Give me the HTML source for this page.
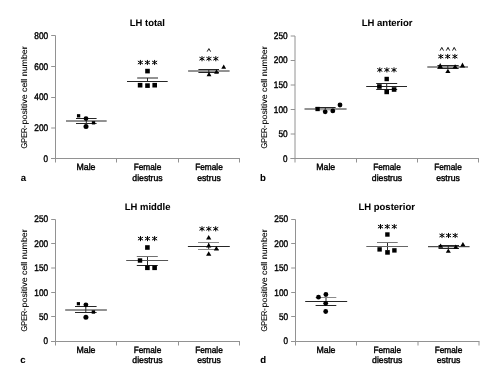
<!DOCTYPE html><html><head><meta charset="utf-8"><style>html,body{margin:0;padding:0;background:#fff;}svg{display:block;font-family:"Liberation Sans",sans-serif;will-change:transform;}text{fill:#000;stroke:#000;stroke-width:0.4px;}text.b{stroke-width:0.05px;}text{text-rendering:geometricPrecision;}</style></head><body>
<svg width="499" height="386" viewBox="0 0 499 386">
<rect width="499" height="386" fill="#fff"/>
<line x1="55.5" y1="35.5" x2="55.5" y2="162.5" stroke="#929292" stroke-width="1"/>
<line x1="51.2" y1="35.5" x2="55.5" y2="35.5" stroke="#929292" stroke-width="1"/>
<line x1="51.2" y1="66.5" x2="55.5" y2="66.5" stroke="#929292" stroke-width="1"/>
<line x1="51.2" y1="97.5" x2="55.5" y2="97.5" stroke="#929292" stroke-width="1"/>
<line x1="51.2" y1="128.0" x2="55.5" y2="128.0" stroke="#929292" stroke-width="1"/>
<line x1="51.2" y1="158.5" x2="55.5" y2="158.5" stroke="#929292" stroke-width="1"/>
<text x="48.1" y="38.9" font-size="9.6" text-anchor="end" font-weight="normal" textLength="13.8" lengthAdjust="spacingAndGlyphs">800</text>
<text x="48.1" y="69.9" font-size="9.6" text-anchor="end" font-weight="normal" textLength="13.8" lengthAdjust="spacingAndGlyphs">600</text>
<text x="48.1" y="100.30000000000001" font-size="9.6" text-anchor="end" font-weight="normal" textLength="13.8" lengthAdjust="spacingAndGlyphs">400</text>
<text x="48.1" y="131.4" font-size="9.6" text-anchor="end" font-weight="normal" textLength="13.8" lengthAdjust="spacingAndGlyphs">200</text>
<text x="48.1" y="161.9" font-size="9.6" text-anchor="end" font-weight="normal" textLength="4.5" lengthAdjust="spacingAndGlyphs">0</text>
<line x1="51.0" y1="158.5" x2="240.0" y2="158.5" stroke="#929292" stroke-width="1"/>
<line x1="116.5" y1="158.5" x2="116.5" y2="162.5" stroke="#929292" stroke-width="1"/>
<line x1="178.5" y1="158.5" x2="178.5" y2="162.5" stroke="#929292" stroke-width="1"/>
<line x1="239.5" y1="158.5" x2="239.5" y2="162.5" stroke="#929292" stroke-width="1"/>
<text x="147.4" y="26.2" font-size="9.5" text-anchor="middle" font-weight="bold" textLength="35.2" lengthAdjust="spacingAndGlyphs" class="b">LH total</text>
<g transform="translate(27.0,148.4) rotate(-90)" font-size="8.3"><text x="0" y="0" style="stroke-width:0.1px" textLength="23.2" lengthAdjust="spacingAndGlyphs">GPER-</text><text x="24.0" y="0" style="stroke-width:0.1px" textLength="78.1" lengthAdjust="spacingAndGlyphs">positive cell number</text></g>
<text x="20.8" y="181.0" font-size="9.6" text-anchor="start" font-weight="bold" class="b">a</text>
<text x="86.0" y="169.7" font-size="9" text-anchor="middle" font-weight="normal" textLength="19" lengthAdjust="spacingAndGlyphs">Male</text>
<text x="147.5" y="169.7" font-size="9" text-anchor="middle" font-weight="normal" textLength="27.6" lengthAdjust="spacingAndGlyphs">Female</text>
<text x="147.5" y="180.6" font-size="9" text-anchor="middle" font-weight="normal" textLength="30.3" lengthAdjust="spacingAndGlyphs">diestrus</text>
<text x="209.0" y="169.7" font-size="9" text-anchor="middle" font-weight="normal" textLength="27.6" lengthAdjust="spacingAndGlyphs">Female</text>
<text x="209.0" y="180.6" font-size="9" text-anchor="middle" font-weight="normal" textLength="23.5" lengthAdjust="spacingAndGlyphs">estrus</text>
<line x1="86.3" y1="118.5" x2="86.3" y2="123.5" stroke="#262626" stroke-width="1"/>
<line x1="66" y1="121.0" x2="106.7" y2="121.0" stroke="#262626" stroke-width="1"/>
<line x1="76" y1="118.5" x2="96.6" y2="118.5" stroke="#262626" stroke-width="1"/>
<line x1="76" y1="123.5" x2="96.6" y2="123.5" stroke="#262626" stroke-width="1"/>
<rect x="76.95" y="114.15" width="3.3" height="3.3" fill="#000"/>
<circle cx="86" cy="118.6" r="2.4" fill="#000"/>
<rect x="91.85" y="121.15" width="3.3" height="3.3" fill="#000"/>
<circle cx="86" cy="126.4" r="2.5" fill="#000"/>
<line x1="147.5" y1="78.0" x2="147.5" y2="81.5" stroke="#262626" stroke-width="1"/>
<line x1="127" y1="81.5" x2="167.7" y2="81.5" stroke="#262626" stroke-width="1"/>
<line x1="137.2" y1="78.0" x2="158" y2="78.0" stroke="#262626" stroke-width="1"/>
<path d="M140.40 59.95V65.05M137.85 61.02L142.95 63.98M137.85 63.98L142.95 61.02" stroke="#000" stroke-width="1.0" fill="none"/>
<path d="M147.40 59.95V65.05M144.85 61.02L149.95 63.98M144.85 63.98L149.95 61.02" stroke="#000" stroke-width="1.0" fill="none"/>
<path d="M154.60 59.95V65.05M152.05 61.02L157.15 63.98M152.05 63.98L157.15 61.02" stroke="#000" stroke-width="1.0" fill="none"/>
<rect x="145.20" y="68.80" width="4.6" height="4.6" fill="#000"/>
<rect x="137.80" y="82.90" width="4.6" height="4.6" fill="#000"/>
<rect x="145.20" y="83.30" width="4.6" height="4.6" fill="#000"/>
<rect x="152.40" y="82.90" width="4.6" height="4.6" fill="#000"/>
<line x1="208.8" y1="69.5" x2="208.8" y2="72.5" stroke="#262626" stroke-width="1"/>
<line x1="188.1" y1="71.0" x2="229.6" y2="71.0" stroke="#262626" stroke-width="1"/>
<line x1="198.4" y1="69.5" x2="219" y2="69.5" stroke="#262626" stroke-width="1"/>
<line x1="198.4" y1="72.5" x2="219" y2="72.5" stroke="#262626" stroke-width="1"/>
<path d="M202.00 56.15V61.25M199.45 57.23L204.55 60.18M199.45 60.18L204.55 57.23" stroke="#000" stroke-width="1.0" fill="none"/>
<path d="M208.90 56.15V61.25M206.35 57.23L211.45 60.18M206.35 60.18L211.45 57.23" stroke="#000" stroke-width="1.0" fill="none"/>
<path d="M215.80 56.15V61.25M213.25 57.23L218.35 60.18M213.25 60.18L218.35 57.23" stroke="#000" stroke-width="1.0" fill="none"/>
<path d="M207.20 51.60L208.90 48.60L210.60 51.60" stroke="#000" stroke-width="0.9" fill="none"/>
<path d="M223.70 64.60L226.10 68.70L221.30 68.70Z" fill="#000"/>
<path d="M216.50 69.30L218.90 73.80L214.10 73.80Z" fill="#000"/>
<path d="M209.00 71.80L211.40 76.20L206.60 76.20Z" fill="#000"/>
<line x1="295.0" y1="36.0" x2="295.0" y2="162.5" stroke="#929292" stroke-width="1"/>
<line x1="290.7" y1="36.0" x2="295.0" y2="36.0" stroke="#929292" stroke-width="1"/>
<line x1="290.7" y1="60.5" x2="295.0" y2="60.5" stroke="#929292" stroke-width="1"/>
<line x1="290.7" y1="85.0" x2="295.0" y2="85.0" stroke="#929292" stroke-width="1"/>
<line x1="290.7" y1="109.5" x2="295.0" y2="109.5" stroke="#929292" stroke-width="1"/>
<line x1="290.7" y1="134.0" x2="295.0" y2="134.0" stroke="#929292" stroke-width="1"/>
<line x1="290.7" y1="158.5" x2="295.0" y2="158.5" stroke="#929292" stroke-width="1"/>
<text x="287.6" y="39.4" font-size="9.6" text-anchor="end" font-weight="normal" textLength="13.8" lengthAdjust="spacingAndGlyphs">250</text>
<text x="287.6" y="63.1" font-size="9.6" text-anchor="end" font-weight="normal" textLength="13.8" lengthAdjust="spacingAndGlyphs">200</text>
<text x="287.6" y="88.0" font-size="9.6" text-anchor="end" font-weight="normal" textLength="13.8" lengthAdjust="spacingAndGlyphs">150</text>
<text x="287.6" y="112.9" font-size="9.6" text-anchor="end" font-weight="normal" textLength="13.8" lengthAdjust="spacingAndGlyphs">100</text>
<text x="287.6" y="137.4" font-size="9.6" text-anchor="end" font-weight="normal" textLength="9.2" lengthAdjust="spacingAndGlyphs">50</text>
<text x="287.6" y="161.9" font-size="9.6" text-anchor="end" font-weight="normal" textLength="4.5" lengthAdjust="spacingAndGlyphs">0</text>
<line x1="290.5" y1="158.5" x2="479.0" y2="158.5" stroke="#929292" stroke-width="1"/>
<line x1="356.5" y1="158.5" x2="356.5" y2="162.5" stroke="#929292" stroke-width="1"/>
<line x1="417.5" y1="158.5" x2="417.5" y2="162.5" stroke="#929292" stroke-width="1"/>
<line x1="478.5" y1="158.5" x2="478.5" y2="162.5" stroke="#929292" stroke-width="1"/>
<text x="387.1" y="26.4" font-size="9.5" text-anchor="middle" font-weight="bold" textLength="50.8" lengthAdjust="spacingAndGlyphs" class="b">LH anterior</text>
<g transform="translate(266.6,148.4) rotate(-90)" font-size="8.3"><text x="0" y="0" style="stroke-width:0.1px" textLength="23.2" lengthAdjust="spacingAndGlyphs">GPER-</text><text x="24.0" y="0" style="stroke-width:0.1px" textLength="78.1" lengthAdjust="spacingAndGlyphs">positive cell number</text></g>
<text x="259.9" y="181.0" font-size="9.6" text-anchor="start" font-weight="bold" class="b">b</text>
<text x="325.75" y="169.7" font-size="9" text-anchor="middle" font-weight="normal" textLength="19" lengthAdjust="spacingAndGlyphs">Male</text>
<text x="387.0" y="169.7" font-size="9" text-anchor="middle" font-weight="normal" textLength="27.6" lengthAdjust="spacingAndGlyphs">Female</text>
<text x="387.0" y="180.6" font-size="9" text-anchor="middle" font-weight="normal" textLength="30.3" lengthAdjust="spacingAndGlyphs">diestrus</text>
<text x="448.0" y="169.7" font-size="9" text-anchor="middle" font-weight="normal" textLength="27.6" lengthAdjust="spacingAndGlyphs">Female</text>
<text x="448.0" y="180.6" font-size="9" text-anchor="middle" font-weight="normal" textLength="23.5" lengthAdjust="spacingAndGlyphs">estrus</text>
<line x1="325.3" y1="107.5" x2="325.3" y2="110.0" stroke="#262626" stroke-width="1"/>
<line x1="304.5" y1="109.0" x2="346.6" y2="109.0" stroke="#262626" stroke-width="1"/>
<line x1="315.6" y1="107.5" x2="335.6" y2="107.5" stroke="#262626" stroke-width="1"/>
<line x1="315.6" y1="110.0" x2="335.6" y2="110.0" stroke="#bbb" stroke-width="1"/>
<rect x="315.45" y="106.85" width="4.3" height="4.3" fill="#000"/>
<circle cx="325.2" cy="111.8" r="2.4" fill="#000"/>
<circle cx="332.8" cy="110.9" r="2.4" fill="#000"/>
<circle cx="340.0" cy="105.0" r="2.4" fill="#000"/>
<line x1="386.7" y1="83.5" x2="386.7" y2="89.5" stroke="#262626" stroke-width="1"/>
<line x1="366.2" y1="86.5" x2="407" y2="86.5" stroke="#262626" stroke-width="1"/>
<line x1="376.2" y1="83.5" x2="397.2" y2="83.5" stroke="#262626" stroke-width="1"/>
<line x1="376.2" y1="89.5" x2="397.2" y2="89.5" stroke="#262626" stroke-width="1"/>
<path d="M379.80 67.35V72.45M377.25 68.43L382.35 71.38M377.25 71.38L382.35 68.43" stroke="#000" stroke-width="1.0" fill="none"/>
<path d="M386.90 67.35V72.45M384.35 68.43L389.45 71.38M384.35 71.38L389.45 68.43" stroke="#000" stroke-width="1.0" fill="none"/>
<path d="M394.00 67.35V72.45M391.45 68.43L396.55 71.38M391.45 71.38L396.55 68.43" stroke="#000" stroke-width="1.0" fill="none"/>
<rect x="384.50" y="76.80" width="4.4" height="4.4" fill="#000"/>
<rect x="377.10" y="84.20" width="4.6" height="4.6" fill="#000"/>
<rect x="384.40" y="89.60" width="4.6" height="4.6" fill="#000"/>
<rect x="391.80" y="87.20" width="4.6" height="4.6" fill="#000"/>
<line x1="447.8" y1="65.5" x2="447.8" y2="68.5" stroke="#262626" stroke-width="1"/>
<line x1="427.3" y1="67.0" x2="468" y2="67.0" stroke="#262626" stroke-width="1"/>
<line x1="437.4" y1="65.5" x2="458.7" y2="65.5" stroke="#262626" stroke-width="1"/>
<line x1="437.4" y1="68.5" x2="458.7" y2="68.5" stroke="#262626" stroke-width="1"/>
<path d="M440.80 53.95V59.05M438.25 55.02L443.35 57.98M438.25 57.98L443.35 55.02" stroke="#000" stroke-width="1.0" fill="none"/>
<path d="M447.70 53.95V59.05M445.15 55.02L450.25 57.98M445.15 57.98L450.25 55.02" stroke="#000" stroke-width="1.0" fill="none"/>
<path d="M454.90 53.95V59.05M452.35 55.02L457.45 57.98M452.35 57.98L457.45 55.02" stroke="#000" stroke-width="1.0" fill="none"/>
<path d="M440.10 50.60L441.80 47.40L443.50 50.60" stroke="#000" stroke-width="0.9" fill="none"/>
<path d="M446.30 50.60L448.00 47.40L449.70 50.60" stroke="#000" stroke-width="0.9" fill="none"/>
<path d="M452.50 50.60L454.20 47.40L455.90 50.60" stroke="#000" stroke-width="0.9" fill="none"/>
<path d="M440.20 63.10L442.90 68.20L437.50 68.20Z" fill="#000"/>
<path d="M455.10 64.30L457.70 68.60L452.50 68.60Z" fill="#000"/>
<path d="M462.50 62.60L465.10 67.50L459.90 67.50Z" fill="#000"/>
<path d="M447.90 68.80L450.50 73.10L445.30 73.10Z" fill="#000"/>
<line x1="55.5" y1="219.5" x2="55.5" y2="345.5" stroke="#929292" stroke-width="1"/>
<line x1="51.2" y1="219.5" x2="55.5" y2="219.5" stroke="#929292" stroke-width="1"/>
<line x1="51.2" y1="243.5" x2="55.5" y2="243.5" stroke="#929292" stroke-width="1"/>
<line x1="51.2" y1="268.0" x2="55.5" y2="268.0" stroke="#929292" stroke-width="1"/>
<line x1="51.2" y1="292.5" x2="55.5" y2="292.5" stroke="#929292" stroke-width="1"/>
<line x1="51.2" y1="316.5" x2="55.5" y2="316.5" stroke="#929292" stroke-width="1"/>
<line x1="51.2" y1="341.5" x2="55.5" y2="341.5" stroke="#929292" stroke-width="1"/>
<text x="48.1" y="222.1" font-size="9.6" text-anchor="end" font-weight="normal" textLength="13.8" lengthAdjust="spacingAndGlyphs">250</text>
<text x="48.1" y="246.5" font-size="9.6" text-anchor="end" font-weight="normal" textLength="13.8" lengthAdjust="spacingAndGlyphs">200</text>
<text x="48.1" y="270.9" font-size="9.6" text-anchor="end" font-weight="normal" textLength="13.8" lengthAdjust="spacingAndGlyphs">150</text>
<text x="48.1" y="295.59999999999997" font-size="9.6" text-anchor="end" font-weight="normal" textLength="13.8" lengthAdjust="spacingAndGlyphs">100</text>
<text x="48.1" y="320.0" font-size="9.6" text-anchor="end" font-weight="normal" textLength="9.2" lengthAdjust="spacingAndGlyphs">50</text>
<text x="48.1" y="343.9" font-size="9.6" text-anchor="end" font-weight="normal" textLength="4.5" lengthAdjust="spacingAndGlyphs">0</text>
<line x1="51.0" y1="341.5" x2="240.0" y2="341.5" stroke="#929292" stroke-width="1"/>
<line x1="116.5" y1="341.5" x2="116.5" y2="345.5" stroke="#929292" stroke-width="1"/>
<line x1="178.5" y1="341.5" x2="178.5" y2="345.5" stroke="#929292" stroke-width="1"/>
<line x1="239.5" y1="341.5" x2="239.5" y2="345.5" stroke="#929292" stroke-width="1"/>
<text x="147.6" y="209.7" font-size="9.5" text-anchor="middle" font-weight="bold" textLength="45.6" lengthAdjust="spacingAndGlyphs" class="b">LH middle</text>
<g transform="translate(27.2,331.4) rotate(-90)" font-size="8.3"><text x="0" y="0" style="stroke-width:0.1px" textLength="23.2" lengthAdjust="spacingAndGlyphs">GPER-</text><text x="24.0" y="0" style="stroke-width:0.1px" textLength="78.1" lengthAdjust="spacingAndGlyphs">positive cell number</text></g>
<text x="20.3" y="362.9" font-size="9.6" text-anchor="start" font-weight="bold" class="b">c</text>
<text x="86.0" y="352.7" font-size="9" text-anchor="middle" font-weight="normal" textLength="19" lengthAdjust="spacingAndGlyphs">Male</text>
<text x="147.5" y="352.7" font-size="9" text-anchor="middle" font-weight="normal" textLength="27.6" lengthAdjust="spacingAndGlyphs">Female</text>
<text x="147.5" y="362.5" font-size="9" text-anchor="middle" font-weight="normal" textLength="30.3" lengthAdjust="spacingAndGlyphs">diestrus</text>
<text x="209.0" y="352.7" font-size="9" text-anchor="middle" font-weight="normal" textLength="27.6" lengthAdjust="spacingAndGlyphs">Female</text>
<text x="209.0" y="362.5" font-size="9" text-anchor="middle" font-weight="normal" textLength="23.5" lengthAdjust="spacingAndGlyphs">estrus</text>
<line x1="85.8" y1="306.5" x2="85.8" y2="312.5" stroke="#262626" stroke-width="1"/>
<line x1="65.2" y1="310.0" x2="106.9" y2="310.0" stroke="#262626" stroke-width="1"/>
<line x1="75" y1="306.5" x2="96.6" y2="306.5" stroke="#262626" stroke-width="1"/>
<line x1="75" y1="312.5" x2="96.6" y2="312.5" stroke="#262626" stroke-width="1"/>
<rect x="76.80" y="302.10" width="3.2" height="3.2" fill="#000"/>
<circle cx="85.9" cy="304.8" r="2.4" fill="#000"/>
<rect x="91.70" y="310.30" width="3.4" height="3.4" fill="#000"/>
<circle cx="85.9" cy="317.2" r="2.5" fill="#000"/>
<line x1="147.5" y1="256.5" x2="147.5" y2="265.5" stroke="#262626" stroke-width="1"/>
<line x1="126.2" y1="260.5" x2="168.1" y2="260.5" stroke="#555" stroke-width="1"/>
<line x1="136.8" y1="256.5" x2="157.8" y2="256.5" stroke="#707070" stroke-width="1"/>
<line x1="136.8" y1="265.5" x2="157.8" y2="265.5" stroke="#262626" stroke-width="1"/>
<path d="M140.50 236.05V241.15M137.95 237.12L143.05 240.07M137.95 240.07L143.05 237.12" stroke="#000" stroke-width="1.0" fill="none"/>
<path d="M147.50 236.05V241.15M144.95 237.12L150.05 240.07M144.95 240.07L150.05 237.12" stroke="#000" stroke-width="1.0" fill="none"/>
<path d="M154.60 236.05V241.15M152.05 237.12L157.15 240.07M152.05 240.07L157.15 237.12" stroke="#000" stroke-width="1.0" fill="none"/>
<rect x="145.10" y="245.20" width="4.6" height="4.6" fill="#000"/>
<rect x="137.80" y="258.30" width="4.4" height="4.4" fill="#000"/>
<rect x="145.10" y="265.50" width="4.6" height="4.6" fill="#000"/>
<rect x="152.30" y="265.50" width="4.6" height="4.6" fill="#000"/>
<line x1="208.7" y1="242.5" x2="208.7" y2="249.5" stroke="#262626" stroke-width="1"/>
<line x1="187.9" y1="246.5" x2="229.8" y2="246.5" stroke="#262626" stroke-width="1"/>
<line x1="198" y1="242.5" x2="219" y2="242.5" stroke="#8a8a8a" stroke-width="1"/>
<line x1="198" y1="249.5" x2="219" y2="249.5" stroke="#8a8a8a" stroke-width="1"/>
<path d="M202.00 226.25V231.35M199.45 227.33L204.55 230.28M199.45 230.28L204.55 227.33" stroke="#000" stroke-width="1.0" fill="none"/>
<path d="M208.80 226.25V231.35M206.25 227.33L211.35 230.28M206.25 230.28L211.35 227.33" stroke="#000" stroke-width="1.0" fill="none"/>
<path d="M215.70 226.25V231.35M213.15 227.33L218.25 230.28M213.15 230.28L218.25 227.33" stroke="#000" stroke-width="1.0" fill="none"/>
<path d="M208.70 235.00L211.30 239.50L206.10 239.50Z" fill="#000"/>
<path d="M208.70 242.90L211.30 247.60L206.10 247.60Z" fill="#000"/>
<path d="M216.40 246.10L219.00 250.50L213.80 250.50Z" fill="#000"/>
<path d="M208.70 251.20L211.30 255.80L206.10 255.80Z" fill="#000"/>
<line x1="295.5" y1="219.5" x2="295.5" y2="345.5" stroke="#929292" stroke-width="1"/>
<line x1="291.2" y1="219.5" x2="295.5" y2="219.5" stroke="#929292" stroke-width="1"/>
<line x1="291.2" y1="243.5" x2="295.5" y2="243.5" stroke="#929292" stroke-width="1"/>
<line x1="291.2" y1="268.0" x2="295.5" y2="268.0" stroke="#929292" stroke-width="1"/>
<line x1="291.2" y1="292.5" x2="295.5" y2="292.5" stroke="#929292" stroke-width="1"/>
<line x1="291.2" y1="316.5" x2="295.5" y2="316.5" stroke="#929292" stroke-width="1"/>
<line x1="291.2" y1="341.5" x2="295.5" y2="341.5" stroke="#929292" stroke-width="1"/>
<text x="288.1" y="222.1" font-size="9.6" text-anchor="end" font-weight="normal" textLength="13.8" lengthAdjust="spacingAndGlyphs">250</text>
<text x="288.1" y="246.5" font-size="9.6" text-anchor="end" font-weight="normal" textLength="13.8" lengthAdjust="spacingAndGlyphs">200</text>
<text x="288.1" y="270.9" font-size="9.6" text-anchor="end" font-weight="normal" textLength="13.8" lengthAdjust="spacingAndGlyphs">150</text>
<text x="288.1" y="295.59999999999997" font-size="9.6" text-anchor="end" font-weight="normal" textLength="13.8" lengthAdjust="spacingAndGlyphs">100</text>
<text x="288.1" y="320.0" font-size="9.6" text-anchor="end" font-weight="normal" textLength="9.2" lengthAdjust="spacingAndGlyphs">50</text>
<text x="288.1" y="343.9" font-size="9.6" text-anchor="end" font-weight="normal" textLength="4.5" lengthAdjust="spacingAndGlyphs">0</text>
<line x1="291.0" y1="341.5" x2="479.5" y2="341.5" stroke="#929292" stroke-width="1"/>
<line x1="356.5" y1="341.5" x2="356.5" y2="345.5" stroke="#929292" stroke-width="1"/>
<line x1="418.0" y1="341.5" x2="418.0" y2="345.5" stroke="#929292" stroke-width="1"/>
<line x1="479.0" y1="341.5" x2="479.0" y2="345.5" stroke="#929292" stroke-width="1"/>
<text x="386.7" y="209.7" font-size="9.5" text-anchor="middle" font-weight="bold" textLength="56.4" lengthAdjust="spacingAndGlyphs" class="b">LH posterior</text>
<g transform="translate(266.6,331.4) rotate(-90)" font-size="8.3"><text x="0" y="0" style="stroke-width:0.1px" textLength="23.2" lengthAdjust="spacingAndGlyphs">GPER-</text><text x="24.0" y="0" style="stroke-width:0.1px" textLength="78.1" lengthAdjust="spacingAndGlyphs">positive cell number</text></g>
<text x="260.3" y="362.7" font-size="9.6" text-anchor="start" font-weight="bold" class="b">d</text>
<text x="326.0" y="352.7" font-size="9" text-anchor="middle" font-weight="normal" textLength="19" lengthAdjust="spacingAndGlyphs">Male</text>
<text x="387.25" y="352.7" font-size="9" text-anchor="middle" font-weight="normal" textLength="27.6" lengthAdjust="spacingAndGlyphs">Female</text>
<text x="387.25" y="362.5" font-size="9" text-anchor="middle" font-weight="normal" textLength="30.3" lengthAdjust="spacingAndGlyphs">diestrus</text>
<text x="448.5" y="352.7" font-size="9" text-anchor="middle" font-weight="normal" textLength="27.6" lengthAdjust="spacingAndGlyphs">Female</text>
<text x="448.5" y="362.5" font-size="9" text-anchor="middle" font-weight="normal" textLength="23.5" lengthAdjust="spacingAndGlyphs">estrus</text>
<line x1="326.0" y1="297.5" x2="326.0" y2="305.5" stroke="#262626" stroke-width="1"/>
<line x1="305.2" y1="301.5" x2="347.2" y2="301.5" stroke="#262626" stroke-width="1"/>
<line x1="315.6" y1="297.5" x2="336.3" y2="297.5" stroke="#8a8a8a" stroke-width="1"/>
<line x1="315.6" y1="305.5" x2="336.3" y2="305.5" stroke="#262626" stroke-width="1"/>
<circle cx="318.5" cy="297.2" r="2.4" fill="#000"/>
<circle cx="325.9" cy="294.5" r="2.4" fill="#000"/>
<circle cx="325.7" cy="303.3" r="2.4" fill="#000"/>
<circle cx="325.7" cy="311.5" r="2.4" fill="#000"/>
<line x1="387.5" y1="242.5" x2="387.5" y2="250.0" stroke="#262626" stroke-width="1"/>
<line x1="366.3" y1="246.5" x2="408" y2="246.5" stroke="#666" stroke-width="1"/>
<line x1="377.0" y1="242.5" x2="397.7" y2="242.5" stroke="#777" stroke-width="1"/>
<line x1="377.0" y1="250.0" x2="397.7" y2="250.0" stroke="#fff0" stroke-width="1"/>
<path d="M380.50 224.05V229.15M377.95 225.12L383.05 228.07M377.95 228.07L383.05 225.12" stroke="#000" stroke-width="1.0" fill="none"/>
<path d="M387.30 224.05V229.15M384.75 225.12L389.85 228.07M384.75 228.07L389.85 225.12" stroke="#000" stroke-width="1.0" fill="none"/>
<path d="M394.30 224.05V229.15M391.75 225.12L396.85 228.07M391.75 228.07L396.85 225.12" stroke="#000" stroke-width="1.0" fill="none"/>
<rect x="385.20" y="232.30" width="4.4" height="4.4" fill="#000"/>
<rect x="377.40" y="247.20" width="4.4" height="4.4" fill="#000"/>
<rect x="385.20" y="250.10" width="4.6" height="4.6" fill="#000"/>
<rect x="392.20" y="248.20" width="4.4" height="4.4" fill="#000"/>
<line x1="448.3" y1="245.5" x2="448.3" y2="248.5" stroke="#262626" stroke-width="1"/>
<line x1="428" y1="246.7" x2="469.6" y2="246.7" stroke="#262626" stroke-width="1"/>
<line x1="438.5" y1="245.5" x2="459" y2="245.5" stroke="#262626" stroke-width="1"/>
<line x1="438.5" y1="248.5" x2="459" y2="248.5" stroke="#262626" stroke-width="1"/>
<path d="M442.00 232.95V238.05M439.45 234.03L444.55 236.97M439.45 236.97L444.55 234.03" stroke="#000" stroke-width="1.0" fill="none"/>
<path d="M448.50 232.95V238.05M445.95 234.03L451.05 236.97M445.95 236.97L451.05 234.03" stroke="#000" stroke-width="1.0" fill="none"/>
<path d="M455.20 232.95V238.05M452.65 234.03L457.75 236.97M452.65 236.97L457.75 234.03" stroke="#000" stroke-width="1.0" fill="none"/>
<path d="M440.60 243.50L443.10 247.70L438.10 247.70Z" fill="#000"/>
<path d="M455.80 244.40L458.30 248.70L453.30 248.70Z" fill="#000"/>
<path d="M462.90 241.90L465.40 246.30L460.40 246.30Z" fill="#000"/>
<path d="M448.30 248.50L450.80 252.80L445.80 252.80Z" fill="#000"/>
</svg></body></html>
